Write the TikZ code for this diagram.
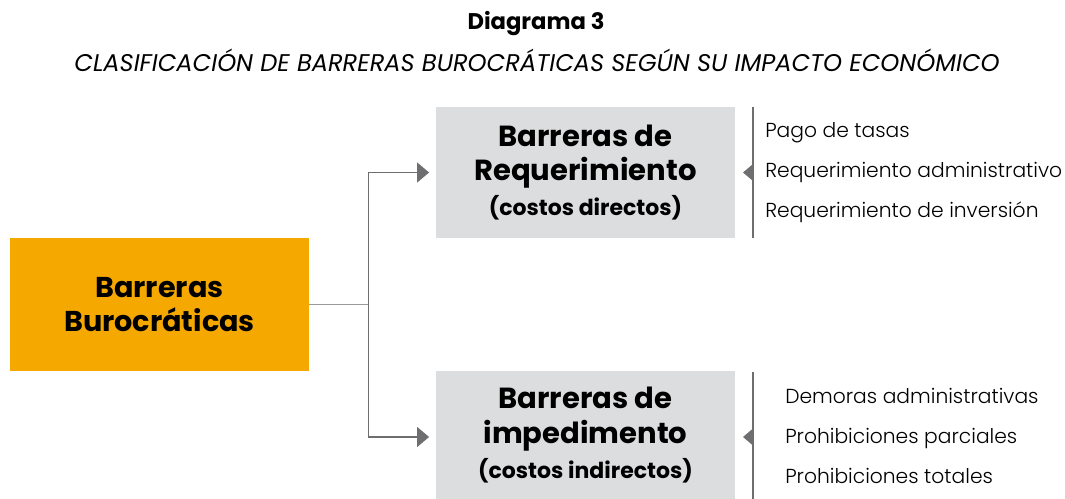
\documentclass[tikz,border=0pt]{standalone}
\usepackage{fontspec}
\setmainfont{Poppins}
\newfontfamily\lightfont{Poppins Light}
\usepackage{tikz}
\usetikzlibrary{arrows.meta}
\usetikzlibrary{positioning}
\definecolor{barorange}{HTML}{F5A800}
\definecolor{bargray}{HTML}{DCDDDE}
\definecolor{linegray}{HTML}{6E6E70}
\tikzset{my arrow/.style={-{Triangle[length=9pt,width=15pt]}, linegray, line width=0.9pt}}
\tikzstyle{mainbox} = [rectangle, minimum width=299*0.75pt, minimum height=133*0.75pt, text centered, align=center, fill=barorange, font=\fontsize{21.5}{25}\selectfont\bfseries]
\tikzstyle{typebox} = [rectangle, minimum width=299*0.75pt, minimum height=131*0.75pt, text centered, align=center, fill=bargray, font=\fontsize{21.8}{26}\selectfont\bfseries]
\tikzstyle{item} = [anchor=west, inner sep=0pt, text height=1.6ex, text depth=0.4ex, font=\lightfont\fontsize{15.2}{17}\selectfont]

\begin{document}
\begin{tikzpicture}[x=0.75pt, y=-0.75pt]
  \useasboundingbox (0,0) rectangle (1065,499);
  \node [font=\fontsize{17}{20}\selectfont\bfseries] (title) at (536,24) {Diagrama 3};
  \node [font=\fontsize{18.1}{21}\selectfont\itshape] (subtitle) at (537,60) {CLASIFICACIÓN DE BARRERAS BUROCRÁTICAS SEGÚN SU IMPACTO ECONÓMICO};

  \node [mainbox] (buro) at (159.5,304.5) {Barreras\\Burocráticas};
  \node [typebox] (req) at (585.5,172.5) {Barreras de\\Requerimiento\\{\fontsize{16.5}{20}\selectfont(costos directos)}};
  \node [typebox, minimum height=128*0.75pt] (imp) at (585.5,435) {Barreras de\\impedimento\\{\fontsize{16.5}{20}\selectfont(costos indirectos)}};

  % brackets with marks
  \coordinate (reqbar) at (753,172.5);
  \coordinate (impbar) at (753,437);
  \draw [linegray, line width=0.9pt] (753,107) -- (753,238);
  \draw [linegray, line width=0.9pt] (753,372) -- (753,499);
  \fill [linegray] (reqbar) ++(0,-8.5) -- ++(-10,8.5) -- ++(10,8.5) -- cycle;
  \fill [linegray] (impbar) ++(0,-8.5) -- ++(-10,8.5) -- ++(10,8.5) -- cycle;

  \node [item] (tasas) at (765,133) {Pago de tasas};
  \node [item] (admin) at (765,173) {Requerimiento administrativo};
  \node [item] (inver) at (765,213) {Requerimiento de inversión};
  \node [item] (demor) at (785,399) {Demoras administrativas};
  \node [item] (parci) at (785,439) {Prohibiciones parciales};
  \node [item] (total) at (785,479) {Prohibiciones totales};

  \coordinate (split) at (368.5,304.5);
  \draw [linegray!70, line width=0.9pt] (buro.east) -- (split);
  \draw [my arrow] (split) |- ([xshift=-5pt]req.west);
  \draw [my arrow] (split) |- ([yshift=-1.5pt, xshift=-5pt]imp.west);
\end{tikzpicture}
\end{document}
